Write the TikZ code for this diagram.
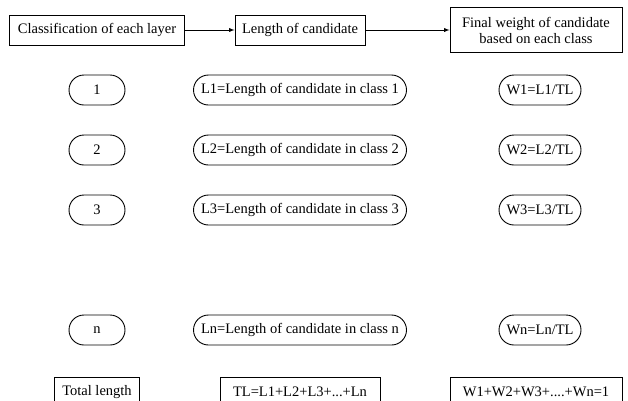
\documentclass[tikz,border=0pt]{standalone}
\usepackage{fontspec}
\setmainfont{Liberation Serif}
\usetikzlibrary{shapes.misc}

\begin{document}
\begin{tikzpicture}[
  x = 1pt, y = -1pt,
  every node/.style = {inner sep=1.5pt, font=\fontsize{14.5}{16}\selectfont, align=center},
  headbox/.style    = {draw, line width=0.9pt, rectangle, minimum height=30pt},
  classbox/.style   = {draw, line width=0.9pt, rounded rectangle, minimum height=30pt},
  link/.style       = {draw, line width=0.9pt, -latex},
]
\clip (0,0) rectangle (628,400);

% header row
\node[headbox, minimum width=175pt] (cls) at ( 97, 30) {Classification of each layer};
\node[headbox, minimum width=130pt] (len) at (300, 30) {Length of candidate};
\node[headbox, minimum width=172pt, minimum height=45pt] (wgt) at (536, 30)
  {Final weight of candidate\\based on each class};
% class rows
\node[classbox, minimum width=59pt]  (c1) at ( 97, 90) {1};
\node[classbox, minimum width=216pt] (l1) at (300, 90) {L1=Length of candidate in class 1};
\node[classbox, minimum width=85pt]  (w1) at (540, 90) {W1=L1/TL};
\node[classbox, minimum width=59pt]  (c2) at ( 97,150) {2};
\node[classbox, minimum width=216pt] (l2) at (300,150) {L2=Length of candidate in class 2};
\node[classbox, minimum width=85pt]  (w2) at (540,150) {W2=L2/TL};
\node[classbox, minimum width=59pt]  (c3) at ( 97,210) {3};
\node[classbox, minimum width=216pt] (l3) at (300,210) {L3=Length of candidate in class 3};
\node[classbox, minimum width=85pt]  (w3) at (540,210) {W3=L3/TL};
\node[classbox, minimum width=59pt]  (cn) at ( 97,330) {n};
\node[classbox, minimum width=216pt] (ln) at (300,330) {Ln=Length of candidate in class n};
\node[classbox, minimum width=85pt]  (wn) at (540,330) {Wn=Ln/TL};
% totals
\node[headbox, minimum width=85pt]  (tot)  at ( 97,392) {Total length};
\node[headbox, minimum width=160pt] (tsum) at (300,392) {TL=L1+L2+L3+...+Ln};
\node[headbox, minimum width=172pt] (wsum) at (536,392) {W1+W2+W3+....+Wn=1};

\draw[link] (cls) -- (len);
\draw[link] (len) -- (wgt);

\end{tikzpicture}
\end{document}
